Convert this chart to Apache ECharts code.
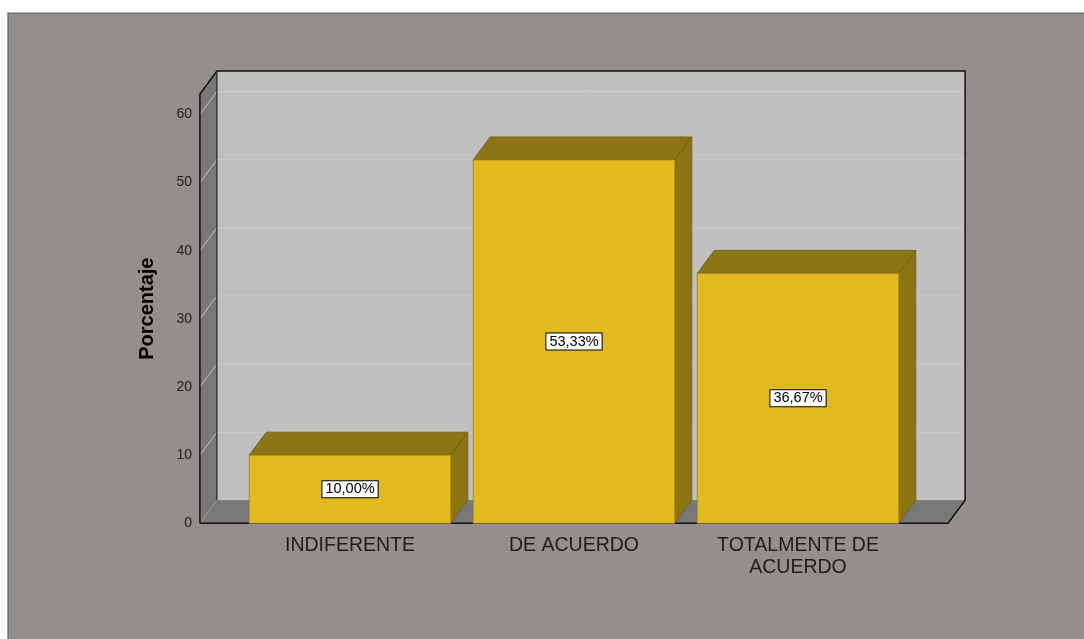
<!DOCTYPE html>
<html>
<head>
<meta charset="utf-8">
<style>
  html, body { margin: 0; padding: 0; background: #ffffff; }
  #chart { width: 1084px; height: 639px; }
</style>
<script src="https://cdn.jsdelivr.net/npm/echarts@6/dist/echarts.min.js"></script>
</head>
<body>
<div id="chart"></div>
<script>
// Response categories and their share of answers (%)
const categories = ['INDIFERENTE', 'DE ACUERDO', 'TOTALMENTE DE\nACUERDO'];
const percentages = [10.00, 53.33, 36.67];
const yTicks = [0, 10, 20, 30, 40, 50, 60];
const yMax = 63;

// 3D look: depth offset of the back plane, wall margin beyond the bars
const DX = 17, DY = -23;
const WALL_PAD = 0.17;   // fraction of a category band
const BAR_RATIO = 0.9;   // bar width as fraction of a category band

const chart = echarts.init(document.getElementById('chart'), null, { renderer: 'canvas' });

function fmt(v) {
  return v.toFixed(2).replace('.', ',') + '%';
}

// Walls, floor and gridlines of the 3D box
function renderScene(params, api) {
  const cs = params.coordSys;
  const band = api.size([1, 0])[0];
  const pad = band * WALL_PAD;
  const L = cs.x - pad, R = cs.x + cs.width + pad;
  const T = cs.y, B = cs.y + cs.height;
  const children = [];
  // back wall
  children.push({ type: 'rect', shape: { x: L + DX, y: T + DY, width: R - L, height: B - T },
    style: { fill: '#c0c0c0' } });
  // left wall
  children.push({ type: 'polygon', shape: { points: [[L, T], [L + DX, T + DY], [L + DX, B + DY], [L, B]] },
    style: { fill: '#787878' } });
  // floor
  children.push({ type: 'polygon', shape: { points: [[L, B], [L + DX, B + DY], [R + DX, B + DY], [R, B]] },
    style: { fill: '#787878' } });
  // gridlines
  yTicks.forEach(function (v) {
    if (v === 0) return;
    const y = api.coord([0, v])[1];
    children.push({ type: 'line', shape: { x1: L + DX, y1: y + DY, x2: R + DX, y2: y + DY },
      style: { stroke: '#cbcbcb', lineWidth: 1 } });
    children.push({ type: 'line', shape: { x1: L, y1: y, x2: L + DX, y2: y + DY },
      style: { stroke: '#c2c2c2', lineWidth: 1 } });
  });
  // floor seam along the left wall
  children.push({ type: 'line', shape: { x1: L, y1: B, x2: L + DX, y2: B + DY },
    style: { stroke: '#9a9a9a', lineWidth: 1 } });
  // outline
  const edge = { stroke: '#111111', lineWidth: 1.5, fill: null };
  children.push({ type: 'polyline', shape: { points: [[L, B], [L, T], [L + DX, T + DY], [R + DX, T + DY], [R + DX, B + DY], [R, B], [L, B]] },
    style: edge });
  children.push({ type: 'line', shape: { x1: L + DX, y1: T + DY, x2: L + DX, y2: B + DY },
    style: { stroke: '#222222', lineWidth: 1.2 } });
  return { type: 'group', children: children };
}

// A 3D box bar with its value label on the front face
function renderBar(params, api) {
  const idx = api.value(0);
  const v = api.value(1);
  const base = api.coord([idx, 0]);
  const top = api.coord([idx, v]);
  const w = api.size([1, 0])[0] * BAR_RATIO;
  const xl = top[0] - w / 2, xr = top[0] + w / 2;
  const yt = top[1], yb = base[1];
  const line = '#6f5d0e';
  return {
    type: 'group',
    children: [
      { type: 'polygon', shape: { points: [[xl, yt], [xl + DX, yt + DY], [xr + DX, yt + DY], [xr, yt]] },
        style: { fill: '#8b7515', stroke: line, lineWidth: 0.8 } },
      { type: 'polygon', shape: { points: [[xr, yt], [xr + DX, yt + DY], [xr + DX, yb + DY], [xr, yb]] },
        style: { fill: '#8a7414', stroke: line, lineWidth: 0.8 } },
      { type: 'rect', shape: { x: xl, y: yt, width: w, height: yb - yt },
        style: { fill: '#e0bb1f', stroke: '#9c8416', lineWidth: 0.8 } },
      { type: 'text', x: top[0], y: (yt + yb) / 2,
        style: { text: fmt(v), align: 'center', verticalAlign: 'middle',
          fontFamily: 'Liberation Sans, Arial, sans-serif', fontSize: 14.5, fill: '#000000',
          backgroundColor: '#ffffff', borderColor: '#000000', borderWidth: 1,
          padding: [1, 3, 0, 3], lineHeight: 15 } }
    ]
  };
}

chart.setOption({
  animation: false,
  backgroundColor: '#ffffff',
  graphic: [{
    type: 'rect', z: -10, silent: true,
    shape: { x: 8, y: 13, width: 1100, height: 660 },
    style: { fill: '#948f8d', stroke: '#5e5e5e', lineWidth: 1.2 }
  }],
  grid: { left: 238, right: 174, top: 94, bottom: 115.7 },
  xAxis: {
    type: 'category',
    data: categories,
    axisLine: { show: false },
    axisTick: { show: false },
    splitLine: { show: false },
    axisLabel: {
      margin: 11, fontSize: 19.5, lineHeight: 22, color: '#1e1e1e',
      fontFamily: 'Liberation Sans, Arial, sans-serif', interval: 0
    }
  },
  yAxis: {
    type: 'value',
    min: 0, max: yMax, interval: 10,
    name: 'Porcentaje',
    nameLocation: 'middle',
    nameGap: 81,
    nameTextStyle: { fontSize: 20, fontWeight: 'bold', color: '#000000',
      fontFamily: 'Liberation Sans, Arial, sans-serif' },
    axisLine: { show: false },
    axisTick: { show: false },
    splitLine: { show: false },
    axisLabel: {
      margin: 46, fontSize: 14, color: '#222222',
      fontFamily: 'Liberation Sans, Arial, sans-serif',
      formatter: function (v) { return yTicks.indexOf(v) >= 0 ? String(v) : ''; }
    }
  },
  series: [
    { type: 'custom', name: 'scene', renderItem: renderScene, data: [[0, 0]], z: 1, silent: true },
    { type: 'custom', name: 'Porcentaje', renderItem: renderBar, z: 2,
      data: percentages.map(function (v, i) { return [i, v]; }) }
  ]
});
</script>
</body>
</html>
